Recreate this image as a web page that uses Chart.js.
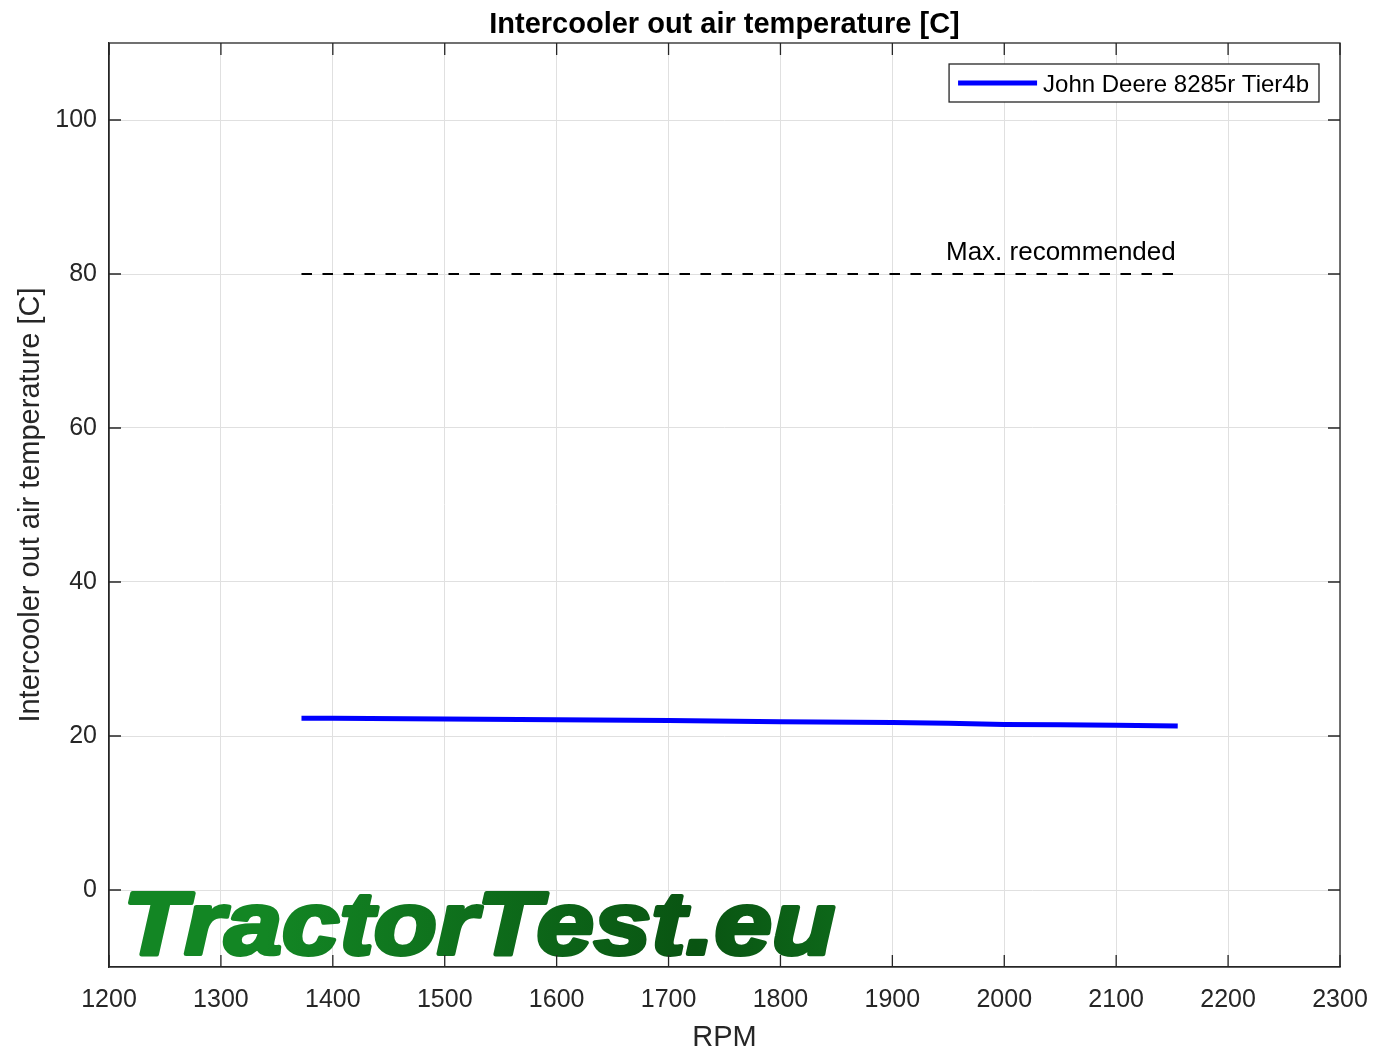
<!DOCTYPE html>
<html>
<head>
<meta charset="utf-8">
<script src="https://cdn.jsdelivr.net/npm/chart.js@4.4.1/dist/chart.umd.min.js"></script>
<style>
  body { margin: 0; background: #fff; }
  canvas { display: block; }
</style>
</head>
<body>
<canvas id="chart" width="1375" height="1055"></canvas>
<script>
// values
const rpm = [1372, 1400, 1500, 1600, 1700, 1800, 1900, 1950, 2000, 2050, 2100, 2155];
const tempC = [22.3, 22.3, 22.2, 22.1, 22.0, 21.85, 21.75, 21.65, 21.5, 21.45, 21.4, 21.3];
const limitRpm = [1372, 2155];
const limitC = [80, 80];
const xTicks = [1200, 1300, 1400, 1500, 1600, 1700, 1800, 1900, 2000, 2100, 2200, 2300];
const yTicks = [0, 20, 40, 60, 80, 100];
const seriesName = "John Deere 8285r Tier4b";
const limitName = "Max. recommended";

const FONT = "'Liberation Sans', Arial, sans-serif";
const AXIS = "#262626";

// box round the axes + inner tick marks, like matlab
const boxPlugin = {
  id: "box",
  afterDraw(chart) {
    const { ctx, chartArea: a, scales } = chart;
    ctx.save();
    ctx.strokeStyle = AXIS;
    ctx.lineWidth = 1.3;
    ctx.strokeRect(a.left, a.top, a.right - a.left, a.bottom - a.top);
    ctx.beginPath();
    xTicks.forEach(v => {
      const px = scales.x.getPixelForValue(v);
      ctx.moveTo(px, a.bottom); ctx.lineTo(px, a.bottom - 12);
      ctx.moveTo(px, a.top); ctx.lineTo(px, a.top + 12);
    });
    yTicks.forEach(v => {
      const py = scales.y.getPixelForValue(v);
      ctx.moveTo(a.left, py); ctx.lineTo(a.left + 12, py);
      ctx.moveTo(a.right, py); ctx.lineTo(a.right - 12, py);
    });
    ctx.stroke();
    ctx.restore();
  }
};

// watermark text under the data
const watermarkPlugin = {
  id: "watermark",
  beforeDatasetsDraw(chart) {
    const { ctx, chartArea: a } = chart;
    const text = "TractorTest.eu";
    const x0 = a.left + 14, base = a.bottom - 13, wantW = 712;
    ctx.save();
    ctx.font = "italic bold 89px " + FONT;
    const w = ctx.measureText(text).width;
    const sx = wantW / w;
    const g = ctx.createLinearGradient(x0, 0, x0 + wantW, 0);
    g.addColorStop(0, "#138624");
    g.addColorStop(0.52, "#095412");
    g.addColorStop(1, "#158a26");
    ctx.translate(x0, base);
    ctx.scale(sx, 1);
    ctx.fillStyle = g;
    ctx.strokeStyle = g;
    ctx.lineWidth = 4;
    ctx.lineJoin = "round";
    ctx.textBaseline = "alphabetic";
    ctx.fillText(text, 0, 0);
    ctx.strokeText(text, 0, 0);
    ctx.restore();
  }
};

// "Max. recommended" label + the boxed legend
const labelsPlugin = {
  id: "labels",
  afterDraw(chart) {
    const { ctx, chartArea: a, scales } = chart;
    ctx.save();
    ctx.fillStyle = "#000";
    ctx.font = "26px " + FONT;
    ctx.textAlign = "right";
    ctx.textBaseline = "alphabetic";
    ctx.fillText(limitName, scales.x.getPixelForValue(limitRpm[1]) - 2, scales.y.getPixelForValue(limitC[1]) - 14);

    ctx.font = "24px " + FONT;
    const tw = ctx.measureText(seriesName).width;
    const right = a.right - 21, top = a.top + 21, h = 38;
    const tx = right - 10 - tw;
    const left = tx - 94;
    ctx.fillStyle = "#fff";
    ctx.fillRect(left, top, right - left, h);
    ctx.strokeStyle = AXIS;
    ctx.lineWidth = 1.3;
    ctx.strokeRect(left, top, right - left, h);
    ctx.strokeStyle = "#0000ff";
    ctx.lineWidth = 5;
    ctx.beginPath();
    ctx.moveTo(tx - 85, top + 19);
    ctx.lineTo(tx - 6, top + 19);
    ctx.stroke();
    ctx.fillStyle = "#000";
    ctx.textAlign = "left";
    ctx.textBaseline = "middle";
    ctx.fillText(seriesName, tx, top + 21);
    ctx.restore();
  }
};

new Chart(document.getElementById("chart").getContext("2d"), {
  type: "line",
  data: {
    datasets: [
      {
        label: seriesName,
        data: rpm.map((r, i) => ({ x: r, y: tempC[i] })),
        borderColor: "#0000ff",
        borderWidth: 5,
        pointRadius: 0,
        tension: 0
      },
      {
        label: limitName,
        data: limitRpm.map((r, i) => ({ x: r, y: limitC[i] })),
        borderColor: "#000",
        borderWidth: 2,
        borderDash: [10.5, 10.5],
        pointRadius: 0
      }
    ]
  },
  options: {
    responsive: false,
    animation: false,
    layout: { padding: { left: 0, right: 35, top: 0, bottom: 0 } },
    plugins: {
      legend: { display: false },
      tooltip: { enabled: false },
      title: {
        display: true,
        fullSize: false,
        text: "Intercooler out air temperature [C]",
        color: "#000",
        font: { family: FONT, size: 29, weight: "bold" },
        padding: { top: 7.5, bottom: 0.7 }
      }
    },
    scales: {
      x: {
        type: "linear",
        min: 1200,
        max: 2300,
        afterBuildTicks: s => { s.ticks = xTicks.map(v => ({ value: v })); },
        afterFit: s => { s.height = 88; s.paddingLeft = 0; s.paddingRight = 0; },
        ticks: { color: AXIS, font: { family: FONT, size: 25 }, padding: 18, maxRotation: 0, callback: v => String(v) },
        grid: { color: "#e0e0e0", lineWidth: 1, drawTicks: false },
        border: { display: true, color: AXIS, width: 1.3 },
        title: {
          display: true,
          text: "RPM",
          color: AXIS,
          font: { family: FONT, size: 29 },
          padding: { top: 0, bottom: 0 }
        }
      },
      y: {
        type: "linear",
        min: -10,
        max: 110,
        afterBuildTicks: s => { s.ticks = yTicks.map(v => ({ value: v })); },
        afterFit: s => { s.width = 109; s.paddingTop = 0; s.paddingBottom = 0; },
        ticks: { color: AXIS, font: { family: FONT, size: 25 }, padding: 12, callback: v => String(v) },
        grid: { color: "#e0e0e0", lineWidth: 1, drawTicks: false },
        border: { display: true, color: AXIS, width: 1.3 },
        title: {
          display: true,
          text: "Intercooler out air temperature [C]",
          color: AXIS,
          font: { family: FONT, size: 29 },
          padding: { top: 14, bottom: 0 }
        }
      }
    }
  },
  plugins: [watermarkPlugin, boxPlugin, labelsPlugin]
});
</script>
</body>
</html>
